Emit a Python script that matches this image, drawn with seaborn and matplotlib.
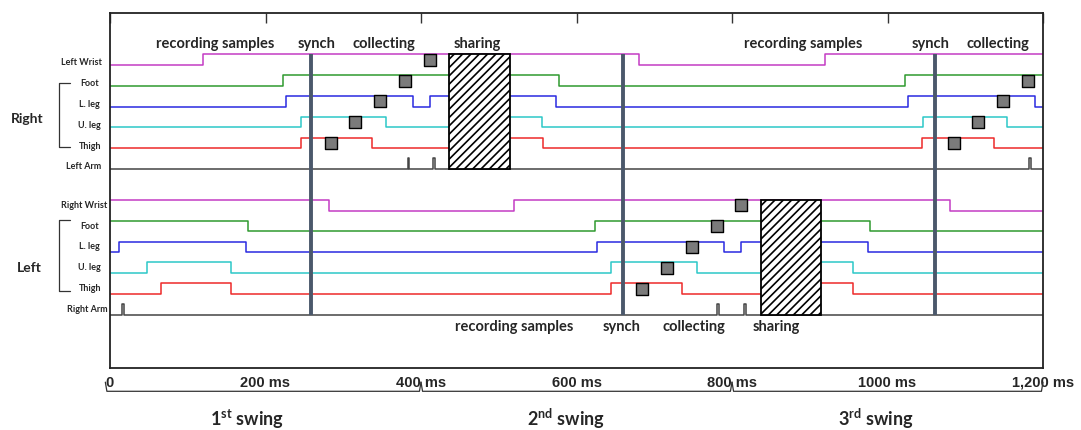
import numpy as np
import pandas as pd
import matplotlib
matplotlib.use("Agg")
import matplotlib.pyplot as plt
import seaborn as sns
from matplotlib.patches import Rectangle

# ================================
#  Data (times in ms)
# ================================
right_rows = ["Left Wrist", "Foot", "L. leg", "U. leg", "Thigh", "Left Arm"]
left_rows = ["Right Wrist", "Foot", "L. leg", "U. leg", "Thigh", "Right Arm"]

# start level (0 = low, 1 = high) and switching times of each signal
right_start = [0, 0, 0, 0, 0]
right_edges = [
    [120, 681, 920],
    [223, 578, 1023],
    [227, 390, 412, 574, 1027, 1190],
    [246, 355, 475, 556, 1046, 1154],
    [246, 337, 475, 557, 1045, 1137],
]
right_arm_spikes = [384, 417, 1183]

left_start = [1, 1, 0, 0, 0]
left_edges = [
    [282, 520, 1081],
    [178, 624, 978],
    [11, 175, 627, 790, 811, 975],
    [48, 156, 645, 755, 875, 956],
    [65, 156, 645, 736, 875, 956],
]
left_arm_spikes = [17, 782, 817]

# collecting squares: time and body part
collect_right_t = [284, 315, 347, 379, 411, 1086, 1117, 1149, 1181]
collect_right_part = ["Thigh", "U. leg", "L. leg", "Foot", "Left Wrist",
                      "Thigh", "U. leg", "L. leg", "Foot"]
collect_left_t = [684, 716, 749, 781, 811]
collect_left_part = ["Thigh", "U. leg", "L. leg", "Foot", "Right Wrist"]

share_right = (436, 514)
share_left = (837, 915)
synch_times = [259, 660, 1061]

top_phase_labels = ["recording samples", "synch", "collecting", "sharing",
                    "recording samples", "synch", "collecting"]
bottom_phase_labels = ["recording samples", "synch", "collecting", "sharing"]

tick_ms = [0, 200, 400, 600, 800, 1000, 1200]
tick_labels = ["0", "200 ms", "400 ms", "600 ms", "800 ms", "1000 ms", "1,200 ms"]
swing_bounds = [0, 400, 800, 1200]
swing_labels = [r"1$^{\mathbf{st}}$ swing", r"2$^{\mathbf{nd}}$ swing", r"3$^{\mathbf{rd}}$ swing"]

# ================================
#  Layout / style
# ================================
AMP = 0.505
T_END = 1200
part_colors = {"Wrist": "#c43cc4", "Foot": "#2f9a2f", "L. leg": "#2a2ae0",
               "U. leg": "#2cc8c8", "Thigh": "#ee2a2a", "Arm": "#444444"}
top_phase_x = [135, 265, 352, 472, 892, 1055, 1142]
bottom_phase_x = [520, 658, 751, 857]
swing_label_x = [176, 586, 985]

sns.set_style("white")
plt.rcParams["font.family"] = ["Lato", "DejaVu Sans"]
plt.rcParams["mathtext.fontset"] = "custom"
plt.rcParams["mathtext.bf"] = "Lato:bold"
plt.rcParams["mathtext.rm"] = "Lato:bold"
plt.rcParams["hatch.linewidth"] = 1.2


def color_of(name):
    for k, c in part_colors.items():
        if k in name:
            return c
    return "#444444"


def step_frame(key, row, start, edges):
    t = [0] + list(edges) + [T_END]
    lv = [(start + i) % 2 for i in range(len(edges) + 1)]
    lv = lv + [lv[-1]]
    return pd.DataFrame({"t": t, "y": [row - AMP * v for v in lv], "signal": key})


frames = []
palette = {}
row_of = {}
for g, (rows, starts, edges, spikes, base) in enumerate([
        (right_rows, right_start, right_edges, right_arm_spikes, 0),
        (left_rows, left_start, left_edges, left_arm_spikes, 7)]):
    for i, name in enumerate(rows):
        key = f"{g}-{name}"
        row_of[key] = base + i
        palette[key] = color_of(name)
        if i < 5:
            frames.append(step_frame(key, base + i, starts[i], edges[i]))
        else:
            sp = sorted([s - 1.2 for s in spikes] + [s + 1.2 for s in spikes])
            frames.append(step_frame(key, base + i, 0, sp))
df = pd.concat(frames, ignore_index=True)

fig = plt.figure(figsize=(10.81, 4.31), dpi=100)
ax = fig.add_axes([110 / 1081, 1 - 369 / 431, 933 / 1081, 355 / 431])

sns.lineplot(data=df, x="t", y="y", hue="signal", palette=palette,
             drawstyle="steps-post", estimator=None, sort=False,
             legend=False, linewidth=1.1, ax=ax)

# sharing boxes
for (a, b), top, bot in [(share_right, -AMP, 5), (share_left, 7 - AMP, 12)]:
    ax.add_patch(Rectangle((a, top), b - a, bot - top, facecolor="white",
                           edgecolor="black", hatch="////", lw=1.3, zorder=4))

# synch lines
ax.vlines(synch_times, -AMP, 12, color="#4b586b", lw=2.8, zorder=6)

# collecting squares
sq = pd.DataFrame({
    "t": collect_right_t + collect_left_t,
    "row": [row_of["0-" + p] for p in collect_right_part]
           + [row_of["1-" + p] for p in collect_left_part],
})
sq["y"] = sq["row"] - AMP / 2
sns.scatterplot(data=sq, x="t", y="y", marker="s", s=85, color="#7b7b7b",
                edgecolor="black", linewidth=1.0, zorder=7, ax=ax)

# phase labels
for lab, x in zip(top_phase_labels, top_phase_x):
    ax.text(x, -1.06, lab, ha="center", va="center", fontsize=10.5, fontweight="bold")
for lab, x in zip(bottom_phase_labels, bottom_phase_x):
    ax.text(x, 12.55, lab, ha="center", va="center", fontsize=10.5, fontweight="bold")

# row labels
for g, (rows, base) in enumerate([(right_rows, 0), (left_rows, 7)]):
    for i, name in enumerate(rows):
        y = base + i - (0.15 if g == 0 else 0.3)
        if i in (0, 5):
            ax.text(-11 if g == 0 else -3, y, name, ha="right", va="center",
                    fontsize=6.5, fontweight="bold", clip_on=False)
        else:
            ax.text(-26, y, name, ha="center", va="center",
                    fontsize=6.5, fontweight="bold", clip_on=False)
    y0, y1 = (0.88, 3.96) if g == 0 else (7.44, 10.88)
    ax.plot([-52, -65, -65, -52], [y0, y0, y1, y1], color="#333333", lw=0.9, clip_on=False)
ax.text(-107, 2.55, "Right", ha="center", va="center", fontsize=10, fontweight="bold")
ax.text(-104, 9.7, "Left", ha="center", va="center", fontsize=10, fontweight="bold")

# swing braces and labels
for a, b in zip(swing_bounds[:-1], swing_bounds[1:]):
    a0 = a - 6 if a == 0 else a
    ax.plot([a0, a0 + 2, b - 2, b], [15.25, 15.69, 15.69, 15.25],
            color="#333333", lw=0.9, clip_on=False)
for lab, x in zip(swing_labels, swing_label_x):
    ax.text(x, 17.3, lab, ha="center", va="baseline", fontsize=13, fontweight="bold")

ax.set_xlim(0, T_END)
ax.set_ylim(14.57, -2.5)
ax.set_xlabel("")
ax.set_ylabel("")
ax.set_yticks([])
ax.set_xticks(tick_ms)
ax.set_xticklabels(tick_labels, fontfamily="Liberation Sans", fontweight="bold", fontsize=10.5)
ax.tick_params(axis="x", direction="in", length=7, width=1, top=True, pad=5, color="#333333")
for s in ax.spines.values():
    s.set_linewidth(1.3)
    s.set_color("#222222")

fig.savefig("out.png", dpi=100)
